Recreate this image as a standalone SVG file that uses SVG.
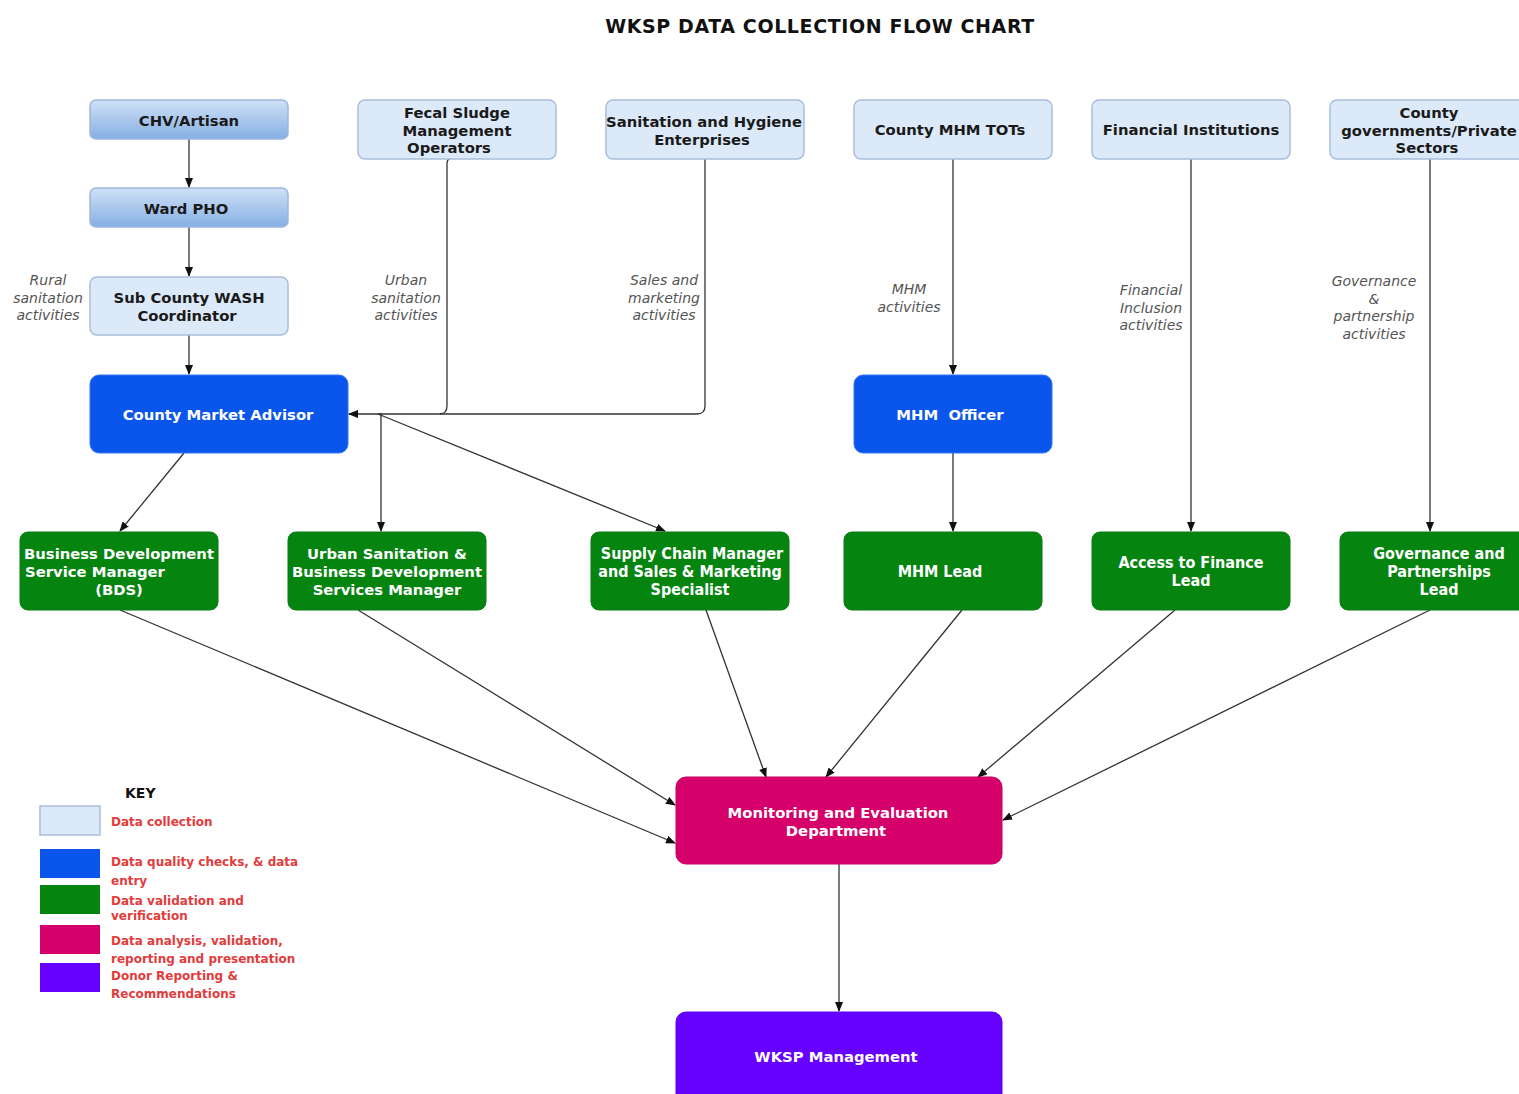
<svg xmlns="http://www.w3.org/2000/svg" width="1519" height="1094" viewBox="0 0 1519 1094">
<defs>
<linearGradient id="gb" x1="0" y1="0" x2="0" y2="1">
<stop offset="0" stop-color="#cfe1f7"/>
<stop offset="1" stop-color="#86afe3"/>
</linearGradient>
<marker id="ah" markerWidth="10" markerHeight="8" refX="9" refY="4" orient="auto" markerUnits="userSpaceOnUse">
<path d="M0,0 L10,4 L0,8 z" fill="#111"/>
</marker>
</defs>
<style>
.lt{fill:#dce9f8;stroke:#a8bfdc;stroke-width:1.5}
.gr{fill:url(#gb);stroke:#9db8dc;stroke-width:1.5}
.bl{fill:#0a55ec;stroke:#3a74f0;stroke-width:1}
.gn{fill:#068410;stroke:#0b7a14;stroke-width:1}
.pk{fill:#d6006a;stroke:#c80062;stroke-width:1}
.pp{fill:#6600ff;stroke:#5a00e8;stroke-width:1}
.td{font-family:"DejaVu Sans",Verdana,sans-serif;font-weight:bold;font-size:14.8px;fill:#1a1a1a;text-anchor:middle}
.tw{font-family:"DejaVu Sans",Verdana,sans-serif;font-weight:bold;font-size:14.8px;fill:#ffffff;text-anchor:middle}
.tc{font-family:"DejaVu Sans Condensed","DejaVu Sans",sans-serif;font-weight:bold;font-size:16px;fill:#ffffff;text-anchor:middle}
.lb{font-family:"DejaVu Sans",Verdana,sans-serif;font-style:italic;font-size:14px;fill:#555;text-anchor:middle}
.k{font-family:"DejaVu Sans",Verdana,sans-serif;font-weight:bold;font-size:12px;fill:#e23b3b}
.cn{fill:none;stroke:#333;stroke-width:1.3}
</style>
<rect width="1519" height="1094" fill="#ffffff"/>
<text x="820" y="33" font-family="DejaVu Sans, Verdana, sans-serif" font-weight="bold" font-size="19" letter-spacing="0.6" fill="#111" text-anchor="middle">WKSP DATA COLLECTION FLOW CHART</text>

<g id="connectors">
<path class="cn" d="M189,139 V187" marker-end="url(#ah)"/>
<path class="cn" d="M189,227 V276" marker-end="url(#ah)"/>
<path class="cn" d="M189,335 V374" marker-end="url(#ah)"/>
<path class="cn" d="M450,159 Q447,159 447,164 V406 Q447,414 439,414 H349" marker-end="url(#ah)"/>
<path class="cn" d="M705,159 V406 Q705,414 697,414 H440"/>
<path class="cn" d="M378,414 L381,414 V531" marker-end="url(#ah)"/>
<path class="cn" d="M378,414 L665,531" marker-end="url(#ah)"/>
<path class="cn" d="M184,453 L120,531" marker-end="url(#ah)"/>
<path class="cn" d="M953,159 V374" marker-end="url(#ah)"/>
<path class="cn" d="M953,453 V531" marker-end="url(#ah)"/>
<path class="cn" d="M1191,159 V531" marker-end="url(#ah)"/>
<path class="cn" d="M1430,159 V531" marker-end="url(#ah)"/>
<path class="cn" d="M120,610 L675,843" marker-end="url(#ah)"/>
<path class="cn" d="M358,610 L675,805" marker-end="url(#ah)"/>
<path class="cn" d="M706,610 L766,777" marker-end="url(#ah)"/>
<path class="cn" d="M962,610 L826,777" marker-end="url(#ah)"/>
<path class="cn" d="M1175,610 L978,777" marker-end="url(#ah)"/>
<path class="cn" d="M1430,610 L1003,820" marker-end="url(#ah)"/>
<path class="cn" d="M839,864 V1011" marker-end="url(#ah)"/>
</g>

<g id="labels">
<text class="lb"><tspan x="48" y="285">Rural</tspan><tspan x="48" y="303">sanitation</tspan><tspan x="48" y="320">activities</tspan></text>
<text class="lb"><tspan x="406" y="285">Urban</tspan><tspan x="406" y="303">sanitation</tspan><tspan x="406" y="320">activities</tspan></text>
<text class="lb"><tspan x="664" y="285">Sales and</tspan><tspan x="664" y="303">marketing</tspan><tspan x="664" y="320">activities</tspan></text>
<text class="lb"><tspan x="909" y="294">MHM</tspan><tspan x="909" y="312">activities</tspan></text>
<text class="lb"><tspan x="1151" y="295">Financial</tspan><tspan x="1151" y="313">Inclusion</tspan><tspan x="1151" y="330">activities</tspan></text>
<text class="lb"><tspan x="1374" y="286">Governance</tspan><tspan x="1374" y="304">&amp;</tspan><tspan x="1374" y="321">partnership</tspan><tspan x="1374" y="339">activities</tspan></text>
</g>

<g id="n-chv"><rect class="gr" x="90" y="100" width="198" height="39" rx="6"/><text class="td" x="189" y="126">CHV/Artisan</text></g>
<g id="n-ward"><rect class="gr" x="90" y="188" width="198" height="39" rx="6"/><text class="td" x="186" y="214">Ward PHO</text></g>
<g id="n-sub"><rect class="lt" x="90" y="277" width="198" height="58" rx="7"/><text class="td"><tspan x="189" y="303">Sub County WASH</tspan><tspan x="187" y="321">Coordinator</tspan></text></g>
<g id="n-fecal"><rect class="lt" x="358" y="100" width="198" height="59" rx="7"/><text class="td"><tspan x="457" y="118">Fecal Sludge</tspan><tspan x="457" y="136">Management</tspan><tspan x="449" y="153">Operators</tspan></text></g>
<g id="n-san"><rect class="lt" x="606" y="100" width="198" height="59" rx="7"/><text class="td"><tspan x="704" y="127">Sanitation and Hygiene</tspan><tspan x="702" y="145">Enterprises</tspan></text></g>
<g id="n-tots"><rect class="lt" x="854" y="100" width="198" height="59" rx="7"/><text class="td" x="950" y="135">County MHM TOTs</text></g>
<g id="n-fin"><rect class="lt" x="1092" y="100" width="198" height="59" rx="7"/><text class="td" x="1191" y="135">Financial Institutions</text></g>
<g id="n-gov"><rect class="lt" x="1330" y="100" width="198" height="59" rx="7"/><text class="td"><tspan x="1429" y="118">County</tspan><tspan x="1429" y="136">governments/Private</tspan><tspan x="1427" y="153">Sectors</tspan></text></g>

<g id="n-cma"><rect class="bl" x="90" y="375" width="258" height="78" rx="9"/><text class="tw" x="218" y="420">County Market Advisor</text></g>
<g id="n-mhmo"><rect class="bl" x="854" y="375" width="198" height="78" rx="9"/><text class="tw" x="950" y="420" xml:space="preserve">MHM  Officer</text></g>

<g id="n-bds"><rect class="gn" x="20" y="532" width="198" height="78" rx="8"/><text class="tw"><tspan x="119" y="559">Business Development</tspan><tspan x="95" y="577">Service Manager</tspan><tspan x="119" y="595">(BDS)</tspan></text></g>
<g id="n-urban"><rect class="gn" x="288" y="532" width="198" height="78" rx="8"/><text class="tw"><tspan x="387" y="559">Urban Sanitation &amp;</tspan><tspan x="387" y="577">Business Development</tspan><tspan x="387" y="595">Services Manager</tspan></text></g>
<g id="n-supply"><rect class="gn" x="591" y="532" width="198" height="78" rx="8"/><text class="tc"><tspan x="692" y="559">Supply Chain Manager</tspan><tspan x="690" y="577">and Sales &amp; Marketing</tspan><tspan x="690" y="595">Specialist</tspan></text></g>
<g id="n-mhml"><rect class="gn" x="844" y="532" width="198" height="78" rx="8"/><text class="tc" x="940" y="577">MHM Lead</text></g>
<g id="n-a2f"><rect class="gn" x="1092" y="532" width="198" height="78" rx="8"/><text class="tc"><tspan x="1191" y="568">Access to Finance</tspan><tspan x="1191" y="586">Lead</tspan></text></g>
<g id="n-gpl"><rect class="gn" x="1340" y="532" width="198" height="78" rx="8"/><text class="tc"><tspan x="1439" y="559">Governance and</tspan><tspan x="1439" y="577">Partnerships</tspan><tspan x="1439" y="595">Lead</tspan></text></g>

<g id="n-me"><rect class="pk" x="676" y="777" width="326" height="87" rx="10"/><text class="tw"><tspan x="838" y="818">Monitoring and Evaluation</tspan><tspan x="836" y="836">Department</tspan></text></g>
<g id="n-wksp"><rect class="pp" x="676" y="1012" width="326" height="100" rx="10"/><text class="tw" x="836" y="1062">WKSP Management</text></g>

<g id="key">
<text x="125" y="798" font-family="DejaVu Sans, Verdana, sans-serif" font-weight="bold" font-size="14" fill="#111">KEY</text>
<rect x="40" y="806" width="60" height="29" fill="#dce9f8" stroke="#a8bfdc" stroke-width="1.5"/>
<rect x="40" y="849" width="60" height="29" fill="#0a55ec"/>
<rect x="40" y="885" width="60" height="29" fill="#068410"/>
<rect x="40" y="925" width="60" height="29" fill="#d6006a"/>
<rect x="40" y="963" width="60" height="29" fill="#6600ff"/>
<text class="k" x="111" y="826">Data collection</text>
<text class="k" x="111" y="866">Data quality checks, &amp; data</text>
<text class="k" x="111" y="885">entry</text>
<text class="k" x="111" y="905">Data validation and</text>
<text class="k" x="111" y="920">verification</text>
<text class="k" x="111" y="945">Data analysis, validation,</text>
<text class="k" x="111" y="963">reporting and presentation</text>
<text class="k" x="111" y="980">Donor Reporting &amp;</text>
<text class="k" x="111" y="998">Recommendations</text>
</g>
</svg>
